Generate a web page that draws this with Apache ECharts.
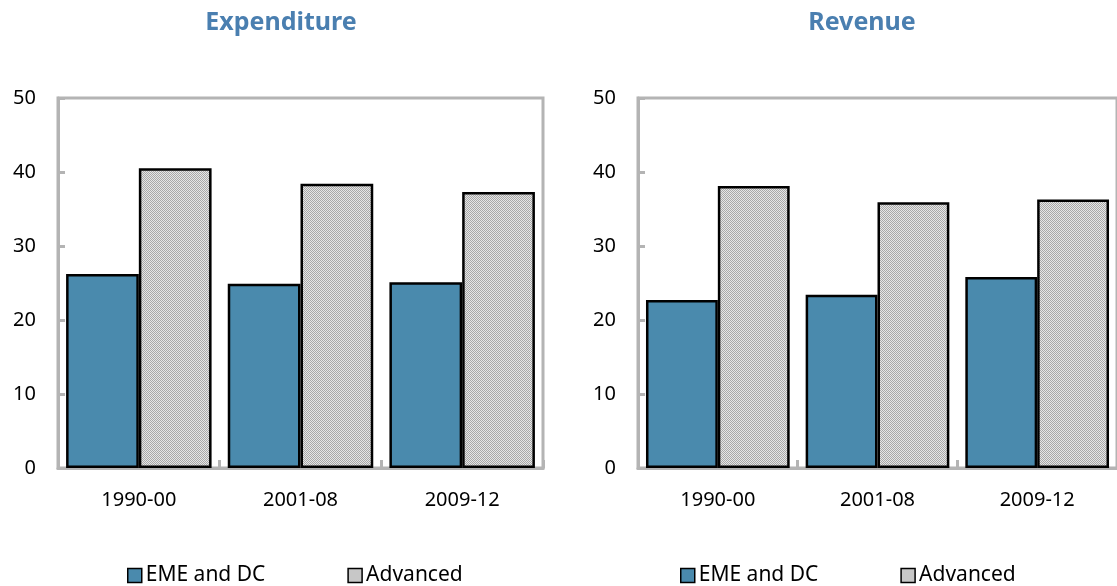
<!DOCTYPE html>
<html>
<head>
<meta charset="utf-8">
<script src="https://cdn.jsdelivr.net/npm/echarts@6/dist/echarts.min.js"></script>
<style>html,body{margin:0;padding:0;background:#fff}#c{width:1117px;height:586px}</style>
</head>
<body>
<div id="c"></div>
<script>
const categories = ['1990-00', '2001-08', '2009-12'];
const expEME = [26.2, 24.9, 25.1];
const expAdv = [40.5, 38.4, 37.3];
const revEME = [22.7, 23.4, 25.8];
const revAdv = [38.1, 35.9, 36.3];
const yTicks = [0, 10, 20, 30, 40, 50];

const pc = document.createElement('canvas');
pc.width = 2; pc.height = 2;
const g = pc.getContext('2d');
g.fillStyle = '#e6e6e6'; g.fillRect(0, 0, 2, 2);
g.fillStyle = '#a8a8a8'; g.fillRect(0, 0, 1, 1); g.fillRect(1, 1, 1, 1);
const pattern = { image: pc, repeat: 'repeat' };

const FONT = 'Noto Sans';
const blue = '#4a8aad';
const gray = '#b4b4b4';

function grid(left) {
  return { left: left, top: 98, width: 485, height: 370, show: true, borderColor: gray, borderWidth: 3, backgroundColor: 'transparent' };
}
function xAx(i) {
  return {
    type: 'category', gridIndex: i, data: categories,
    axisLine: { lineStyle: { color: gray, width: 3 } },
    axisTick: { show: true, inside: true, length: 8, lineStyle: { color: gray, width: 3 } },
    axisLabel: { color: '#000', fontSize: 20, fontFamily: FONT, margin: 22 }
  };
}
function yAx(i) {
  return {
    type: 'value', gridIndex: i, min: 0, max: 50, interval: 10,
    splitLine: { show: false },
    axisLine: { show: true, lineStyle: { color: gray, width: 3 } },
    axisTick: { show: true, inside: true, length: 7, lineStyle: { color: gray, width: 3 } },
    axisLabel: { color: '#000', fontSize: 20, fontFamily: FONT, margin: 22,
      formatter: v => yTicks.includes(v) ? String(v) : '' }
  };
}
function bar(name, data, i, color) {
  return {
    name: name, type: 'bar', xAxisIndex: i, yAxisIndex: i, data: data,
    barGap: '0%', barCategoryGap: '10%',
    itemStyle: { color: color, borderColor: '#000', borderWidth: 2.5 },
    emphasis: { disabled: true }
  };
}
function legend(left) {
  return {
    left: left, top: 565, padding: 0, itemWidth: 14, itemHeight: 14, itemGap: 82,
    icon: 'rect', data: ['EME and DC', 'Advanced'],
    itemStyle: { borderColor: '#000', borderWidth: 1.5 },
    textStyle: { color: '#000', fontSize: 21, fontFamily: FONT, padding: [0, 0, 0, -1] }
  };
}

const chart = echarts.init(document.getElementById('c'));
chart.setOption({
  animation: false,
  title: [
    { text: 'Expenditure', left: 276, top: 5, textAlign: 'center',
      textStyle: { color: '#4a7fb0', fontSize: 25, fontWeight: 'bold', fontFamily: FONT } },
    { text: 'Revenue', left: 857, top: 5, textAlign: 'center',
      textStyle: { color: '#4a7fb0', fontSize: 25, fontWeight: 'bold', fontFamily: FONT } }
  ],
  legend: [ legend(127), legend(680) ],
  grid: [ grid(58), grid(638) ],
  xAxis: [ xAx(0), xAx(1) ],
  yAxis: [ yAx(0), yAx(1) ],
  series: [
    bar('EME and DC', expEME, 0, blue),
    bar('Advanced', expAdv, 0, pattern),
    bar('EME and DC', revEME, 1, blue),
    bar('Advanced', revAdv, 1, pattern)
  ]
});
</script>
</body>
</html>
